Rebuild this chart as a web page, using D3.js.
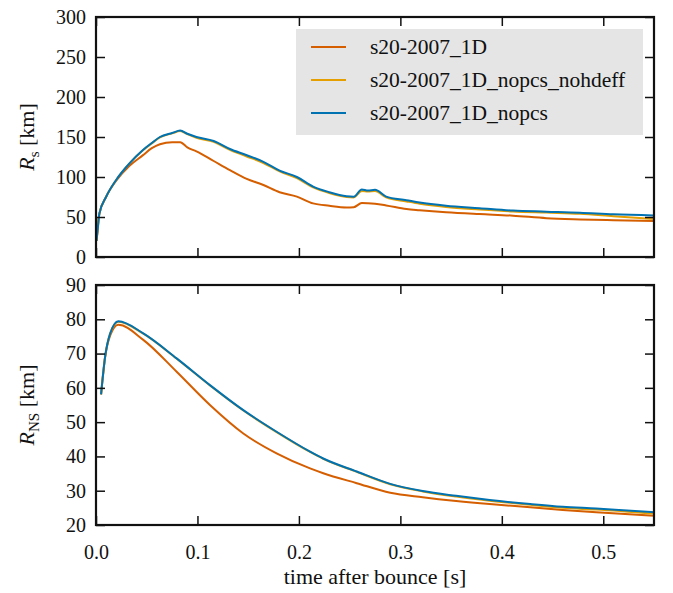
<!DOCTYPE html>
<html>
<head>
<meta charset="utf-8">
<script src="https://cdn.jsdelivr.net/npm/d3@7"></script>
<style>
  body { margin: 0; background: #fff; }
  svg text { font-family: "Liberation Serif", "Times New Roman", "DejaVu Serif", serif; fill: #111; }
</style>
</head>
<body>
<svg width="673" height="593"></svg>
<script>
// series names + colours
const seriesNames = ["s20-2007_1D", "s20-2007_1D_nopcs_nohdeff", "s20-2007_1D_nopcs"];
const seriesColors = ["#d55e00", "#e69f00", "#0072b2"];

// shock radius (top panel)
const tTop = [0.0005, 0.0016, 0.0033, 0.0099, 0.0197, 0.033, 0.046, 0.055, 0.063, 0.075, 0.083, 0.09, 0.099, 0.116, 0.132, 0.148, 0.165, 0.181, 0.198, 0.214, 0.23, 0.247, 0.254, 0.262, 0.268, 0.275, 0.286, 0.306, 0.319, 0.345, 0.378, 0.411, 0.444, 0.477, 0.51, 0.55];
const rsBase = [20, 34, 54, 75, 95, 114, 127, 136, 141, 143.5, 143.5, 137, 132, 120, 108.7, 98, 90, 81, 75.5, 67, 64, 62, 62.3, 67.5, 67.2, 66.5, 64.5, 60, 58.5, 56, 53.7, 51.7, 48.5, 47, 46, 45];
const rsNohdeff = [20, 34, 54, 75, 96, 117, 133, 142, 149.5, 154.5, 157.5, 153.5, 149, 144, 134, 126, 117.5, 107, 98.5, 87, 80, 75, 74.5, 82.5, 82, 82.5, 74.5, 69.5, 66.5, 62.5, 59.5, 57, 55.5, 54, 51, 47.5];
const rsNopcs = [20, 34, 54, 75, 96, 117, 133.5, 142.5, 150, 155, 158, 154, 150, 145, 135, 127.5, 119, 108, 100, 88, 81, 76, 75.4, 84.5, 83, 84, 75.5, 71, 68, 64, 61, 58, 56.7, 55.4, 53.3, 52];

// neutron star radius (bottom panel)
const tBot = [0.005, 0.009, 0.014, 0.022, 0.0466, 0.0795, 0.1123, 0.1452, 0.178, 0.211, 0.224, 0.257, 0.29, 0.322, 0.355, 0.388, 0.428, 0.46, 0.493, 0.55];
const rnsBase = [58.1, 69, 75.3, 78.4, 74, 64.7, 55, 46.7, 40.9, 36.5, 35.1, 32.2, 29.4, 28.1, 27, 26.1, 25.2, 24.4, 23.7, 22.7];
const rnsNohdeff = [58.1, 69.1, 75.9, 79.3, 75.8, 68.5, 60.7, 53.4, 47.1, 41.3, 39.3, 35.5, 31.9, 29.8, 28.3, 27.1, 25.9, 25.0, 24.5, 23.3];
const rnsNopcs = [58.1, 69.1, 75.9, 79.4, 75.9, 68.6, 60.8, 53.5, 47.2, 41.4, 39.4, 35.6, 32, 29.9, 28.5, 27.3, 26.1, 25.3, 24.8, 23.7];

const xTicks = [0.0, 0.1, 0.2, 0.3, 0.4, 0.5];
const yTicksTop = [0, 50, 100, 150, 200, 250, 300];
const yTicksBot = [20, 30, 40, 50, 60, 70, 80, 90];

const serif = '"Liberation Serif", "Times New Roman", "DejaVu Serif", serif';
const svg = d3.select("svg");

const left = 96, right = 654;
const x = d3.scaleLinear().domain([0, 0.55]).range([left, right]);

const panel = (top, bottom, yDomain, yTicks, ts, seriesVals, showXLabels) => {
  const y = d3.scaleLinear().domain(yDomain).range([bottom, top]);
  const g = svg.append("g");

  // curves
  const line = d3.line()
    .x((d) => x(d[0]))
    .y((d) => y(d[1]))
    .curve(d3.curveMonotoneX);
  seriesVals.forEach((vals, i) => {
    g.append("path")
      .datum(ts.map((t, j) => [t, vals[j]]))
      .attr("fill", "none")
      .attr("stroke", seriesColors[i])
      .attr("stroke-width", 2)
      .attr("d", line);
  });

  // axes, ticks pointing inward on all sides
  const ax = (a) => a.tickSizeInner(-9).tickSizeOuter(0);
  g.append("g").attr("transform", `translate(0,${bottom})`)
    .call(ax(d3.axisBottom(x).tickValues(xTicks).tickFormat(showXLabels ? d3.format(".1f") : () => "")).tickPadding(showXLabels ? 20 : 0));
  g.append("g").attr("transform", `translate(0,${top})`)
    .call(ax(d3.axisTop(x).tickValues(xTicks).tickFormat(() => "")));
  g.append("g").attr("transform", `translate(${left},0)`)
    .call(ax(d3.axisLeft(y).tickValues(yTicks).tickFormat(d3.format("d"))).tickPadding(10));
  g.append("g").attr("transform", `translate(${right},0)`)
    .call(ax(d3.axisRight(y).tickValues(yTicks).tickFormat(() => "")));

  g.selectAll(".domain").remove();
  g.selectAll(".tick line").attr("stroke", "#111").attr("stroke-width", 1.5);
  g.selectAll(".tick text")
    .style("font-size", "20px")
    .style("font-family", serif)
    .attr("fill", "#111");

  g.append("rect")
    .attr("x", left).attr("y", top)
    .attr("width", right - left).attr("height", bottom - top)
    .attr("fill", "none").attr("stroke", "#111").attr("stroke-width", 2.2);
  return y;
};

panel(17, 257, [0, 300], yTicksTop, tTop, [rsBase, rsNohdeff, rsNopcs], false);
panel(285, 525, [20, 90], yTicksBot, tBot, [rnsBase, rnsNohdeff, rnsNopcs], true);

// legend
const lg = svg.append("g");
lg.append("rect").attr("x", 296).attr("y", 29).attr("width", 347).attr("height", 106).attr("fill", "#e5e5e5");
seriesNames.forEach((name, i) => {
  const yy = 47 + i * 33;
  lg.append("line").attr("x1", 311).attr("x2", 346).attr("y1", yy).attr("y2", yy)
    .attr("stroke", seriesColors[i]).attr("stroke-width", 2);
  lg.append("text").attr("x", 370).attr("y", yy + 7)
    .style("font-family", serif).style("font-size", "21.5px").text(name);
});

// axis labels
const yLabel = (cx, cy, sub) => {
  const t = svg.append("text")
    .attr("transform", `translate(${cx},${cy}) rotate(-90)`)
    .attr("text-anchor", "middle")
    .style("font-family", serif)
    .style("font-size", "22px");
  t.append("tspan").style("font-style", "italic").text("R");
  t.append("tspan").attr("dy", 5).style("font-size", "15px").text(sub);
  t.append("tspan").attr("dy", -5).text(" [km]");
};
yLabel(34, 137, "s");
yLabel(34, 405, "NS");

svg.append("text")
  .attr("x", (left + right) / 2).attr("y", 584)
  .attr("text-anchor", "middle")
  .style("font-family", serif)
  .style("font-size", "22px")
  .text("time after bounce [s]");
</script>
</body>
</html>
